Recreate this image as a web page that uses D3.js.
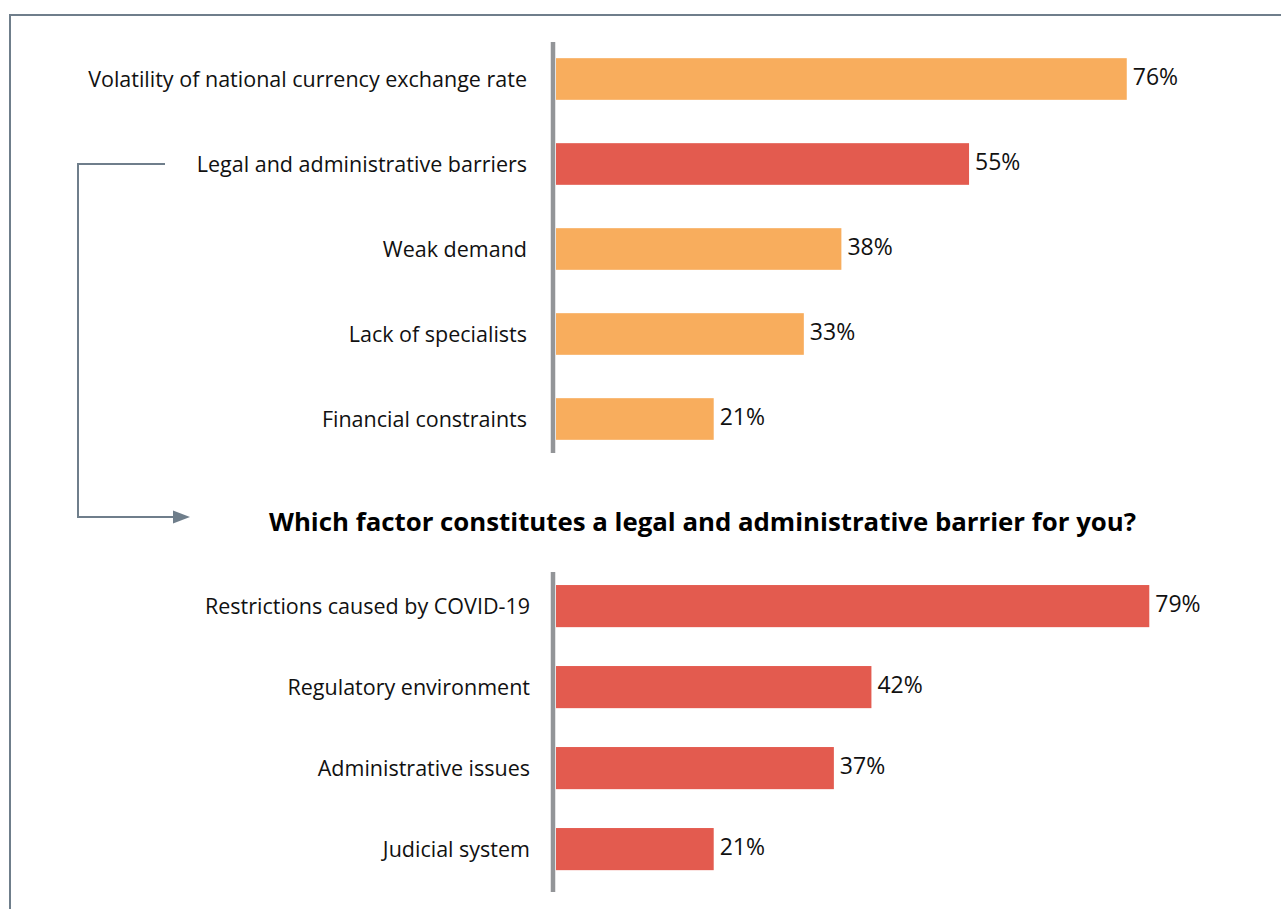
<!DOCTYPE html>
<html>
<head>
<meta charset="utf-8">
<script src="https://cdn.jsdelivr.net/npm/d3@7"></script>
<style>
  html, body { margin: 0; padding: 0; background: #fff; }
  svg { display: block; }
</style>
</head>
<body>
<svg id="chart" width="1281" height="909"></svg>
<script>
// Obstacles to doing business (share of respondents, %)
const obstacleCategories = [
  "Volatility of national currency exchange rate",
  "Legal and administrative barriers",
  "Weak demand",
  "Lack of specialists",
  "Financial constraints"
];
const obstacleValues = [76, 55, 38, 33, 21];
// The legal/administrative item is highlighted and broken down below
const highlightedObstacle = "Legal and administrative barriers";

const barrierTitle = "Which factor constitutes a legal and administrative barrier for you?";
const barrierCategories = [
  "Restrictions caused by COVID-19",
  "Regulatory environment",
  "Administrative issues",
  "Judicial system"
];
const barrierValues = [79, 42, 37, 21];

const ORANGE = "#F8AD5D";
const RED = "#E35B4F";
const AXIS_GREY = "#939598";
const FRAME = "#6F7E8B";
const FONT = "'Open Sans', 'Noto Sans', sans-serif";

const svg = d3.select("#chart");

// Outer frame (runs off the right and bottom edges)
svg.append("path")
  .attr("d", "M10,1000 L10,15 L1300,15")
  .attr("fill", "none")
  .attr("stroke", FRAME)
  .attr("stroke-width", 2);

// Shared value scale: both panels use the same px per percent
const x = d3.scaleLinear().domain([0, 100]).range([556, 1307]);

function drawPanel(g, cats, vals, yRange, pad, axisExtent, colorFn, labelX) {
  const y = d3.scaleBand()
    .domain(cats)
    .range(yRange)
    .paddingInner(pad)
    .paddingOuter(pad / 2);

  const data = cats.map((c, i) => ({ cat: c, val: vals[i] }));

  g.selectAll("rect.bar")
    .data(data)
    .join("rect")
    .attr("class", "bar")
    .attr("x", x(0))
    .attr("y", d => y(d.cat))
    .attr("width", d => x(d.val) - x(0))
    .attr("height", y.bandwidth())
    .attr("fill", d => colorFn(d));

  // Vertical baseline
  g.append("line")
    .attr("x1", x(0) - 3).attr("x2", x(0) - 3)
    .attr("y1", axisExtent[0]).attr("y2", axisExtent[1])
    .attr("stroke", AXIS_GREY)
    .attr("stroke-width", 4.5);

  // Category labels
  g.selectAll("text.cat")
    .data(data)
    .join("text")
    .attr("class", "cat")
    .attr("x", labelX)
    .attr("y", d => y(d.cat) + y.bandwidth() / 2 + 8)
    .attr("text-anchor", "end")
    .attr("font-family", FONT)
    .attr("font-size", 21.5)
    .attr("fill", "#111")
    .text(d => d.cat);

  // Value labels
  g.selectAll("text.val")
    .data(data)
    .join("text")
    .attr("class", "val")
    .attr("x", d => x(d.val) + 6)
    .attr("y", d => y(d.cat) + y.bandwidth() / 2 + 6)
    .attr("font-family", FONT)
    .attr("font-size", 23)
    .attr("fill", "#111")
    .text(d => d.val + "%");

  return y;
}

const topPanel = svg.append("g");
const yTop = drawPanel(topPanel, obstacleCategories, obstacleValues,
  [36.5, 461.5], 0.51, [42, 453],
  d => d.cat === highlightedObstacle ? RED : ORANGE, 527);

const bottomPanel = svg.append("g");
drawPanel(bottomPanel, barrierCategories, barrierValues,
  [565.6, 889.6], 0.48, [572, 892],
  () => RED, 530);

// Sub-question title
svg.append("text")
  .attr("x", 702.5)
  .attr("y", 530.5)
  .attr("text-anchor", "middle")
  .attr("font-family", FONT)
  .attr("font-weight", "bold")
  .attr("font-size", 25.8)
  .attr("fill", "#000")
  .text(barrierTitle);

// Connector from the highlighted item down to the sub-question
const cy = yTop(highlightedObstacle) + yTop.bandwidth() / 2;
svg.append("path")
  .attr("d", `M165,${cy} L78,${cy} L78,517 L175,517`)
  .attr("fill", "none")
  .attr("stroke", FRAME)
  .attr("stroke-width", 2);
svg.append("path")
  .attr("d", "M173,510.5 L190,517 L173,523.5 Z")
  .attr("fill", FRAME);
</script>
</body>
</html>
